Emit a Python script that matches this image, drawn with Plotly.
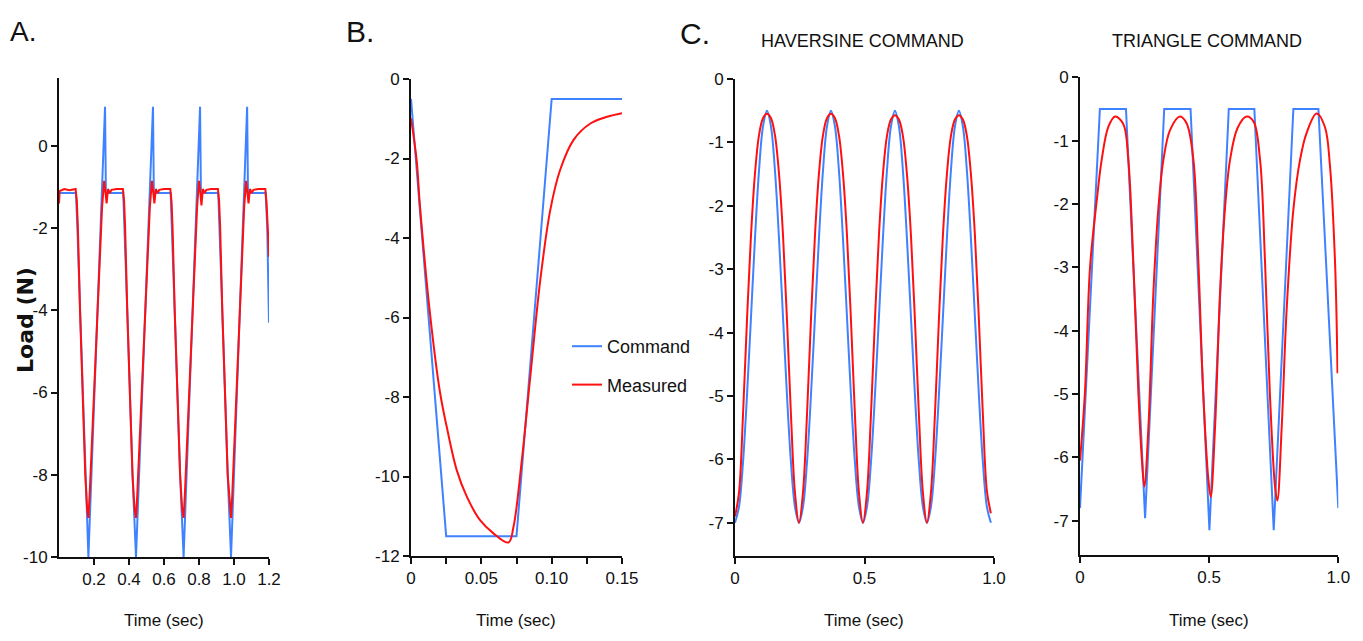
import plotly.graph_objects as go

# page body has an 8px margin, so the figure is sized to fit inside it
OFF = 8
W, H = 1363 - 2 * OFF, 641 - 2 * OFF
BLUE = "#3f82ff"
RED = "#ff1010"
FONT = "Liberation Sans, Arial, sans-serif"

# ---------------- Panel A: command vs measured load ----------------
a_cmd_t = [0.0, 0.097, 0.105, 0.12, 0.15, 0.168, 0.263, 0.268,
           0.367, 0.375, 0.39, 0.42, 0.44, 0.537, 0.542,
           0.638, 0.646, 0.661, 0.692, 0.712, 0.806, 0.811,
           0.91, 0.918, 0.933, 0.964, 0.983, 1.075, 1.08,
           1.181, 1.19, 1.2]
a_cmd_y = [-1.15, -1.15, -2.0, -4.0, -8.0, -10.0, 0.95, -1.15,
           -1.15, -2.0, -4.0, -8.0, -10.0, 0.95, -1.15,
           -1.15, -2.0, -4.0, -8.0, -10.0, 0.95, -1.15,
           -1.15, -2.0, -4.0, -8.0, -10.0, 0.95, -1.15,
           -1.15, -2.0, -4.3]
a_meas_t = [0.0, 0.004, 0.03, 0.06, 0.095,
            0.102, 0.108, 0.12, 0.15, 0.161, 0.168, 0.175, 0.246, 0.258, 0.266, 0.272, 0.28, 0.29, 0.3, 0.33, 0.365,
            0.372, 0.378, 0.39, 0.42, 0.432, 0.44, 0.447, 0.519, 0.531, 0.539, 0.545, 0.553, 0.563, 0.573, 0.6, 0.636,
            0.643, 0.649, 0.661, 0.692, 0.704, 0.712, 0.719, 0.789, 0.8, 0.808, 0.814, 0.822, 0.832, 0.842, 0.87, 0.908,
            0.915, 0.921, 0.933, 0.964, 0.976, 0.983, 0.99, 1.058, 1.069, 1.077, 1.083, 1.091, 1.101, 1.111, 1.14, 1.179,
            1.186, 1.193, 1.2]
a_meas_y = [-1.4, -1.1, -1.05, -1.08, -1.05,
            -1.35, -2.0, -4.0, -8.0, -8.85, -9.05, -8.5, -1.5, -0.85, -1.15, -1.4, -1.05, -1.15, -1.07, -1.05, -1.05,
            -1.35, -2.0, -4.0, -8.0, -8.85, -9.05, -8.5, -1.5, -0.85, -1.15, -1.4, -1.05, -1.15, -1.07, -1.05, -1.05,
            -1.35, -2.0, -4.0, -8.0, -8.85, -9.05, -8.5, -1.5, -0.85, -1.15, -1.45, -1.05, -1.15, -1.07, -1.05, -1.05,
            -1.35, -2.0, -4.0, -8.0, -8.85, -9.05, -8.5, -1.5, -0.85, -1.15, -1.4, -1.05, -1.15, -1.07, -1.05, -1.05,
            -1.4, -2.0, -2.7]

# ---------------- Panel B: single cycle ----------------
b_cmd_t = [0.0, 0.025, 0.075, 0.1, 0.15]
b_cmd_y = [-0.5, -11.5, -11.5, -0.5, -0.5]
b_meas_t = [0.0, 0.004, 0.0064, 0.0135, 0.0207, 0.0254, 0.0325, 0.0396, 0.0491, 0.0586, 0.0693,
            0.0729, 0.0788, 0.0848, 0.0919, 0.099, 0.106, 0.1156, 0.1275, 0.1394, 0.15]
b_meas_y = [-0.99, -2.04, -3.21, -5.9, -7.9, -8.75, -9.84, -10.5, -11.1, -11.43, -11.66,
            -11.26, -9.58, -7.49, -5.06, -3.3, -2.29, -1.53, -1.12, -0.95, -0.86]

# ---------------- Panel C (left): haversine command ----------------
c1_t = [0.0, 0.0154, 0.0309, 0.0463, 0.0618, 0.0772, 0.0926, 0.1081,
        0.1235, 0.1389, 0.1544, 0.1698, 0.1853, 0.2007, 0.2161, 0.2316,
        0.247, 0.2624, 0.2779, 0.2933, 0.3088, 0.3242, 0.3396, 0.3551,
        0.3705, 0.3859, 0.4014, 0.4168, 0.4323, 0.4477, 0.4631, 0.4786,
        0.494, 0.5094, 0.5249, 0.5403, 0.5558, 0.5712, 0.5866, 0.6021,
        0.6175, 0.6329, 0.6484, 0.6638, 0.6793, 0.6947, 0.7101, 0.7256,
        0.741, 0.7564, 0.7719, 0.7873, 0.8028, 0.8182, 0.8336, 0.8491,
        0.8645, 0.8799, 0.8954, 0.9108, 0.9263, 0.9417, 0.9571, 0.9726, 0.988]
c1_cmd_y = [-7.0, -6.75, -6.05, -4.99, -3.75, -2.51, -1.45, -0.75,
            -0.5, -0.75, -1.45, -2.51, -3.75, -4.99, -6.05, -6.75,
            -7.0, -6.75, -6.05, -4.99, -3.75, -2.51, -1.45, -0.75,
            -0.5, -0.75, -1.45, -2.51, -3.75, -4.99, -6.05, -6.75,
            -7.0, -6.75, -6.05, -4.99, -3.75, -2.51, -1.45, -0.75,
            -0.5, -0.75, -1.45, -2.51, -3.75, -4.99, -6.05, -6.75,
            -7.0, -6.75, -6.05, -4.99, -3.75, -2.51, -1.45, -0.75,
            -0.5, -0.75, -1.45, -2.51, -3.75, -4.99, -6.05, -6.75, -7.0]
c1_meas_y = [-6.9, -6.53, -5.3, -3.8, -2.46, -1.49, -0.89, -0.62,
             -0.55, -0.62, -0.89, -1.49, -2.46, -3.8, -5.3, -6.53,
             -7.0, -6.53, -5.3, -3.8, -2.46, -1.49, -0.89, -0.62,
             -0.55, -0.62, -0.89, -1.49, -2.46, -3.8, -5.3, -6.53,
             -7.0, -6.53, -5.3, -3.8, -2.46, -1.5, -0.9, -0.64,
             -0.57, -0.64, -0.9, -1.5, -2.46, -3.8, -5.3, -6.53,
             -7.0, -6.53, -5.3, -3.8, -2.46, -1.5, -0.9, -0.64,
             -0.57, -0.64, -0.9, -1.5, -2.46, -3.8, -5.3, -6.5, -6.85]

# ---------------- Panel C (right): triangle command ----------------
c2_cmd_t = [0.0, 0.077, 0.178, 0.252, 0.326, 0.428, 0.501, 0.576, 0.675, 0.75, 0.826, 0.923, 1.0]
c2_cmd_y = [-6.8, -0.5, -0.5, -6.96, -0.5, -0.5, -7.15, -0.5, -0.5, -7.15, -0.5, -0.5, -6.8]
c2_meas_t = [0.0, 0.019, 0.039, 0.065, 0.084, 0.11, 0.136, 0.168, 0.187, 0.206, 0.226, 0.239, 0.249,
             0.265, 0.284, 0.303, 0.323, 0.349, 0.387, 0.413, 0.439, 0.458, 0.477, 0.497, 0.506,
             0.523, 0.542, 0.561, 0.581, 0.61, 0.645, 0.672, 0.697, 0.716, 0.735, 0.755, 0.764,
             0.781, 0.8, 0.826, 0.852, 0.877, 0.916, 0.948, 0.968, 0.987, 0.994, 0.997]
c2_meas_y = [-6.05, -4.98, -2.99, -1.94, -1.3, -0.78, -0.62, -0.74, -1.3, -2.88, -4.98, -6.0, -6.46,
             -5.51, -3.41, -2.09, -1.3, -0.83, -0.62, -0.73, -1.3, -2.88, -4.98, -6.35, -6.62,
             -5.51, -3.41, -2.09, -1.3, -0.8, -0.62, -0.7, -1.3, -2.88, -4.98, -6.46, -6.68,
             -5.51, -3.67, -2.09, -1.3, -0.88, -0.57, -0.78, -1.41, -2.88, -3.94, -4.67]

fig = go.Figure()

def line(x, y, color, xa, ya, name=None, show=False, shape="linear", group=None):
    fig.add_trace(go.Scatter(x=x, y=y, mode="lines", line=dict(color=color, width=2, shape=shape),
                             xaxis=xa, yaxis=ya, name=name, showlegend=show,
                             legendgroup=group, hoverinfo="skip"))

line(a_cmd_t, a_cmd_y, BLUE, "x", "y")
line(a_meas_t, a_meas_y, RED, "x", "y")
line(b_cmd_t, b_cmd_y, BLUE, "x2", "y2", "Command", True, group="g1")
line(b_meas_t, b_meas_y, RED, "x2", "y2", "Measured", True, shape="spline", group="g2")
line(c1_t, c1_cmd_y, BLUE, "x3", "y3", shape="spline")
line(c1_t, c1_meas_y, RED, "x3", "y3", shape="spline")
line(c2_cmd_t, c2_cmd_y, BLUE, "x4", "y4")
line(c2_meas_t, c2_meas_y, RED, "x4", "y4", shape="spline")

# convert screen pixel positions (of the 1363x641 page) into paper fractions
def px_x(p):
    return (p - OFF) / W

def px_y(p):
    return (H - (p - OFF)) / H

axcommon = dict(showline=True, linecolor="#111", linewidth=2, ticks="outside", ticklen=6,
                tickwidth=1.5, tickcolor="#111", showgrid=False, zeroline=False, automargin=False,
                tickfont=dict(family=FONT, size=17, color="#111"), fixedrange=True)

domains = [
    ((59, 269), (557, 78)),
    ((411, 622), (556, 79)),
    ((735, 994), (555.7, 79)),
    ((1080, 1338.3), (555, 77.3)),
]
xranges = [[0, 1.2], [0, 0.15], [0, 1.0], [0, 1.0]]
yranges = [[-10, 1.65], [-12, 0], [-7.52, 0], [-7.54, 0]]
xticks = [
    ([0.2, 0.4, 0.6, 0.8, 1.0, 1.2], ["0.2", "0.4", "0.6", "0.8", "1.0", "1.2"]),
    ([0, 0.025, 0.05, 0.075, 0.1, 0.125, 0.15], ["0", "", "0.05", "", "0.10", "", "0.15"]),
    ([0, 0.5, 1.0], ["0", "0.5", "1.0"]),
    ([0, 0.5, 1.0], ["0", "0.5", "1.0"]),
]
yticks = [
    ([-10, -8, -6, -4, -2, 0], ["-10", "-8", "-6", "-4", "-2", "0"]),
    ([-12, -10, -8, -6, -4, -2, 0], ["-12", "-10", "-8", "-6", "-4", "-2", "0"]),
    ([-7, -6, -5, -4, -3, -2, -1, 0], ["-7", "-6", "-5", "-4", "-3", "-2", "-1", "0"]),
    ([-7, -6, -5, -4, -3, -2, -1, 0], ["-7", "-6", "-5", "-4", "-3", "-2", "-1", "0"]),
]
layout_axes = {}
for i in range(4):
    (x0, x1), (yb, yt) = domains[i]
    sfx = "" if i == 0 else str(i + 1)
    layout_axes["xaxis" + sfx] = dict(axcommon, domain=[px_x(x0), px_x(x1)], range=xranges[i],
                                      tickvals=xticks[i][0], ticktext=xticks[i][1],
                                      anchor="y" + sfx)
    layout_axes["yaxis" + sfx] = dict(axcommon, domain=[px_y(yb), px_y(yt)], range=yranges[i],
                                      tickvals=yticks[i][0], ticktext=yticks[i][1],
                                      anchor="x" + sfx)

annos = []
def txt(s, x, y, size, family=FONT, angle=0, anchor="center"):
    annos.append(dict(text=s, x=px_x(x), y=px_y(y), xref="paper", yref="paper",
                      xanchor=anchor, yanchor="middle", showarrow=False, textangle=angle,
                      font=dict(family=family, size=size, color="#111")))

txt("A.", 8, 32, 28, anchor="left")
txt("B.", 360, 32, 30)
txt("C.", 695, 34, 30)
txt("HAVERSINE COMMAND", 862, 41, 18)
txt("TRIANGLE COMMAND", 1207, 41, 18)
for cx in (164, 516, 864, 1209):
    txt("Time (sec)", cx, 620, 17)
txt("<b>Load (N)</b>", 25, 320, 22, family="DejaVu Sans, Liberation Sans, sans-serif", angle=-90)

fig.update_layout(
    width=W, height=H, margin=dict(l=0, r=0, t=0, b=0),
    paper_bgcolor="white", plot_bgcolor="white",
    annotations=annos,
    legend=dict(x=px_x(567), y=px_y(328), xanchor="left", yanchor="top",
                font=dict(family=FONT, size=18, color="#111"), tracegroupgap=12,
                bgcolor="rgba(0,0,0,0)"),
    **layout_axes,
)

fig.write_html("out.html")
